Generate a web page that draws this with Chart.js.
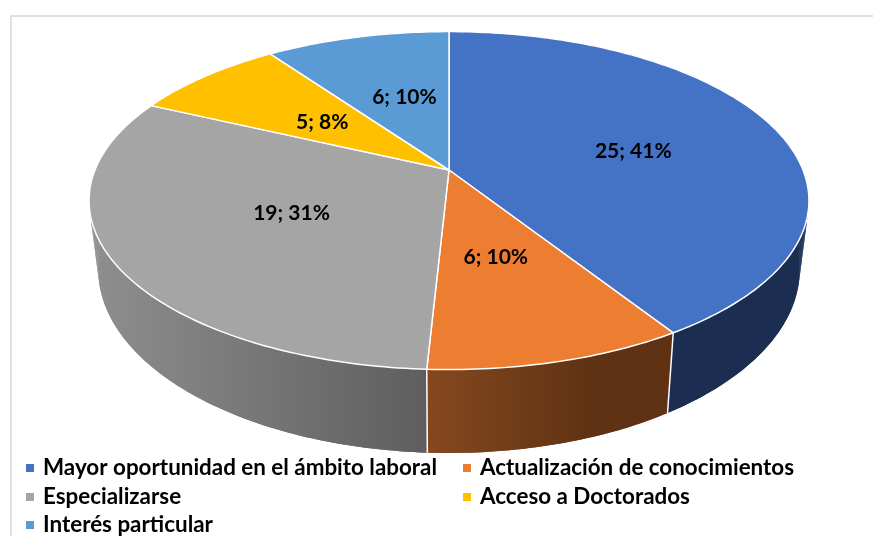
<!DOCTYPE html>
<html><head><meta charset="utf-8">
<style>html,body{margin:0;padding:0;background:#fff}canvas{display:block}</style>
<script src="https://cdn.jsdelivr.net/npm/chart.js@4"></script>
</head><body>
<div style="width:873px;height:536px"><canvas id="c" width="873" height="536"></canvas></div>
<script>
const categories = ['Mayor oportunidad en el ámbito laboral','Actualización de conocimientos','Especializarse','Acceso a Doctorados','Interés particular'];
const values = [25,6,19,5,6];
const topColors = ['#4472C4','#ED7D31','#A5A5A5','#FFC000','#5B9BD5'];
const wallColors = [['#1B2E52','#1B2E52'],['#85481F','#5F3213'],['#8E8E8E','#5E5E5E'],['#997300','#997300'],['#376092','#376092']];
const labelRadius = [0.545,0.5,0.495,0.49,0.506];
const labelTurnDeg = [3.6,0.8,0,-0.4,2];

const LABEL_FONT = 'bold 21px Lato, Carlito, sans-serif';
const LEGEND_FONT = 'bold 22.4px Lato, Carlito, sans-serif';
// Perspective of the tilted disc, relative to the pie radius
const P = {c:-0.181, topA:132.7/170, topK:354/170, botA:135/170, botB:66/170, botK:345/170};
function proj(el,th,r,bottom){
  const R=el.outerRadius, u=Math.sin(th)*r, v=-Math.cos(th)*r, d=1+P.c*v;
  if(bottom) return [el.x+P.botK*R*u/d, (P.botA*R*v+el.y+P.botB*R)/d];
  return [el.x+P.topK*R*u/d, (P.topA*R*v+el.y)/d];
}
const angles = el=>[el.startAngle+Math.PI/2, el.endAngle+Math.PI/2];
function drawTop(ctx,el,i){
  const [a,b]=angles(el), n=Math.max(8,Math.ceil((b-a)*60));
  ctx.save();
  ctx.beginPath();
  let p=proj(el,a,0,false); ctx.moveTo(p[0],p[1]);
  for(let k=0;k<=n;k++){p=proj(el,a+(b-a)*k/n,1,false);ctx.lineTo(p[0],p[1]);}
  ctx.closePath();
  ctx.fillStyle=topColors[i]; ctx.fill();
  ctx.strokeStyle='#fff'; ctx.lineWidth=1.5; ctx.lineJoin='round'; ctx.stroke();
  ctx.restore();
}
const pie3d = {
  id:'pie3d',
  beforeDraw(chart){
    const ctx=chart.ctx; ctx.save();
    ctx.fillStyle='#fff'; ctx.fillRect(0,0,chart.width,chart.height);
    ctx.strokeStyle='#E0E0E0'; ctx.lineWidth=2;
    ctx.beginPath(); ctx.moveTo(11,chart.height); ctx.lineTo(11,16); ctx.lineTo(chart.width,16); ctx.stroke();
    ctx.restore();
  },
  afterDatasetUpdate(chart,args){
    args.meta.data.forEach((el,i)=>{ el.draw=function(ctx){drawTop(ctx,this,i);}; });
  },
  beforeDatasetsDraw(chart){
    const ctx=chart.ctx, arcs=chart.getDatasetMeta(0).data;
    arcs.forEach((el,i)=>{
      const [a,b]=angles(el), n=Math.max(8,Math.ceil((b-a)*60));
      const l=proj(el,Math.PI*1.5,1,false)[0];
      ctx.save();
      const e=proj(el,b,1,true)[0];
      const g = i===1 ? ctx.createLinearGradient(e,0,e+165,0)
                      : ctx.createLinearGradient(l,0,proj(el,a,1,true)[0],0);
      g.addColorStop(0,wallColors[i][0]); g.addColorStop(1,wallColors[i][1]);
      ctx.fillStyle=g;
      ctx.beginPath();
      for(let k=0;k<=n;k++){const p=proj(el,a+(b-a)*k/n,1,false); k?ctx.lineTo(p[0],p[1]):ctx.moveTo(p[0],p[1]);}
      for(let k=n;k>=0;k--){const p=proj(el,a+(b-a)*k/n,1,true); ctx.lineTo(p[0],p[1]);}
      ctx.closePath(); ctx.fill();
      // every generator of the side wall, so that the silhouette is the tangent line
      for(let k=0;k<n;k++){
        const t0=a+(b-a)*k/n,t1=a+(b-a)*(k+1)/n,p0=proj(el,t0,1,false),p1=proj(el,t1,1,false),q1=proj(el,t1,1,true),q0=proj(el,t0,1,true);
        ctx.beginPath();ctx.moveTo(p0[0],p0[1]);ctx.lineTo(p1[0],p1[1]);ctx.lineTo(q1[0],q1[1]);ctx.lineTo(q0[0],q0[1]);ctx.closePath();ctx.fill();
      }
      ctx.restore();
    });
    ctx.save(); ctx.strokeStyle='#fff'; ctx.lineWidth=1.5;
    arcs.forEach(el=>{
      const th=angles(el)[1];
      if(Math.cos(th)<0){
        const p=proj(el,th,1,false), q=proj(el,th,1,true);
        ctx.beginPath(); ctx.moveTo(p[0],p[1]); ctx.lineTo(q[0],q[1]); ctx.stroke();
      }
    });
    ctx.restore();
  },
  afterDatasetsDraw(chart){
    const ctx=chart.ctx, arcs=chart.getDatasetMeta(0).data, total=values.reduce((s,v)=>s+v,0);
    ctx.save(); ctx.font=LABEL_FONT; ctx.fillStyle='#000'; ctx.textAlign='center'; ctx.textBaseline='middle';
    arcs.forEach((el,i)=>{
      const [a,b]=angles(el), p=proj(el,(a+b)/2+labelTurnDeg[i]*Math.PI/180,labelRadius[i],false);
      ctx.fillText(values[i]+'; '+Math.round(values[i]/total*100)+'%',p[0],p[1]);
    });
    ctx.restore();
  },
  afterDraw(chart){
    const ctx=chart.ctx, cols=[26,463], rows=[468,497,525];
    ctx.save(); ctx.font=LEGEND_FONT; ctx.textBaseline='alphabetic'; ctx.textAlign='left';
    categories.forEach((t,i)=>{
      const x=cols[i%2], y=rows[Math.floor(i/2)];
      ctx.fillStyle=topColors[i]; ctx.fillRect(x,y-4,8,8);
      ctx.fillStyle='#000'; ctx.fillText(t,x+17,y+7);
    });
    ctx.restore();
  }
};
new Chart(document.getElementById('c'),{
  type:'pie',
  data:{labels:categories,datasets:[{data:values,backgroundColor:topColors,borderWidth:0}]},
  options:{
    responsive:false,animation:false,
    layout:{padding:{left:25,right:0,top:0,bottom:196}},
    plugins:{legend:{display:false},tooltip:{enabled:false},title:{display:false}}
  },
  plugins:[pie3d]
});
</script>
</body></html>
